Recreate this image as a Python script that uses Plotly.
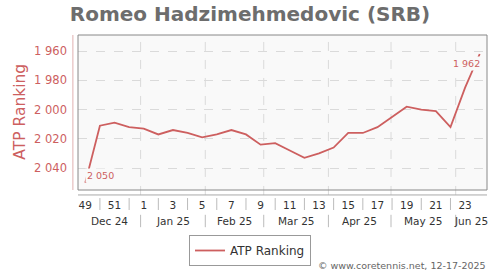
import plotly.graph_objects as go
from datetime import date

# ---- data ----
weeks = [49, 50, 51, 52, 1, 2, 3, 4, 5, 6, 7, 8, 9, 10, 11, 12, 13, 14,
         15, 16, 17, 18, 19, 20, 21, 22, 23, 24]
ranking = [2050, 2011, 2009, 2012, 2013, 2017, 2014, 2016, 2019, 2017,
           2014, 2017, 2024, 2023, 2028, 2033, 2030, 2026, 2016, 2016,
           2012, 2005, 1998, 2000, 2001, 2012, 1985, 1962]
month_labels = ["Dec 24", "Jan 25", "Feb 25", "Mar 25", "Apr 25", "May 25", "Jun 25"]
month_starts = [date(2024, 12, 1), date(2025, 1, 1), date(2025, 2, 1), date(2025, 3, 1),
                date(2025, 4, 1), date(2025, 5, 1), date(2025, 6, 1)]
first_week_start = date(2024, 12, 2)
y_ticks = [1960, 1980, 2000, 2020, 2040]

RED = "#cd5f5f"
PLOT_BG = "#f9f9f9"
GRID = "#dadada"

xs = list(range(len(weeks)))
xmin, xmax = -0.5, len(weeks) - 0.5

fig = go.Figure()
fig.add_trace(go.Scatter(x=xs, y=ranking, mode="lines", name="ATP Ranking",
                         line=dict(color=RED, width=1.8), hoverinfo="skip"))

shapes = []
annotations = []

# month boundaries
bounds = []
for m in month_starts:
    b = (m - first_week_start).days / 7.0 - 0.5
    bounds.append(max(b, xmin))
bounds.append(xmax)

for b in bounds[1:-1]:
    shapes.append(dict(type="line", xref="x", yref="paper", x0=b, x1=b, y0=-0.032, y1=1,
                       line=dict(color=GRID, width=1, dash="dash"), layer="below"))
    shapes.append(dict(type="line", xref="x", yref="paper", x0=b, x1=b, y0=-0.16, y1=-0.24,
                       line=dict(color="#bbbbbb", width=1)))

for i, lab in enumerate(month_labels):
    c = (bounds[i] + bounds[i + 1]) / 2.0
    annotations.append(dict(text=lab, x=c, y=-0.2, xref="x", yref="paper", showarrow=False,
                            xanchor="center", yanchor="middle",
                            font=dict(size=10.5, color="#333333")))

# week separators
for i in range(1, len(weeks) - 1, 2):
    shapes.append(dict(type="line", xref="x", yref="paper", x0=i, x1=i, y0=-0.052, y1=-0.129,
                       line=dict(color="#bbbbbb", width=1)))

# plot frame
shapes.append(dict(type="rect", xref="paper", yref="paper", x0=0, x1=1, y0=0, y1=1,
                   line=dict(color="#888888", width=1)))
# x axis line (offset)
shapes.append(dict(type="line", xref="paper", yref="paper", x0=0, x1=1, y0=-0.032, y1=-0.032,
                   line=dict(color="#aaaaaa", width=1)))
# y axis line (offset)
shapes.append(dict(type="line", xref="paper", yref="paper", x0=-0.0125, x1=-0.0125, y0=0, y1=1,
                   line=dict(color="#e0b0b0", width=1)))

# y title
annotations.append(dict(text="ATP Ranking", x=-0.142, y=0.505, xref="paper", yref="paper",
                        showarrow=False, textangle=-90, xanchor="center", yanchor="middle",
                        font=dict(size=15.5, color=RED)))

# data labels
def fmt(v):
    return f"{v:,}".replace(",", " ")

annotations.append(dict(text=fmt(ranking[0]), x=xs[0], y=ranking[0], xref="x", yref="y",
                        showarrow=False, xanchor="left", yanchor="bottom", yshift=0,
                        bgcolor=PLOT_BG, borderpad=1, font=dict(size=9.5, color=RED)))
annotations.append(dict(text=fmt(ranking[-1]), x=xs[-1], y=ranking[-1], xref="x", yref="y",
                        showarrow=False, xanchor="right", yanchor="top", yshift=-2, xshift=2,
                        bgcolor=PLOT_BG, borderpad=1, font=dict(size=9.5, color=RED)))

# credit
annotations.append(dict(text="© www.coretennis.net, 12-17-2025", x=1.003, y=-0.488,
                        xref="paper", yref="paper", showarrow=False, xanchor="right",
                        yanchor="middle", font=dict(size=9.5, color="#666666")))

fig.update_layout(
    width=500, height=270,
    margin=dict(l=78, r=13, t=35, b=80),
    paper_bgcolor="white", plot_bgcolor=PLOT_BG,
    font=dict(family="DejaVu Sans"),
    title=dict(text="<b>Romeo Hadzimehmedovic (SRB)</b>", x=0.5, xanchor="center",
               y=1 - 14 / 270, yanchor="middle",
               font=dict(size=20, color="#6d6d6d", family="DejaVu Sans")),
    xaxis=dict(range=[xmin, xmax], showgrid=False, zeroline=False, showline=False,
               tickvals=xs[0::2], ticktext=[str(w) for w in weeks[0::2]],
               ticks="", ticklabelstandoff=7,
               tickfont=dict(size=10.5, color="#333333")),
    yaxis=dict(range=[2055, 1949], tickvals=y_ticks, ticktext=[fmt(v) for v in y_ticks],
               showgrid=True, gridcolor=GRID, griddash="dash", zeroline=False,
               showline=False, ticks="", ticklabelstandoff=10,
               tickfont=dict(size=11.5, color=RED)),
    showlegend=True,
    legend=dict(orientation="h", x=0.5, xref="container", xanchor="center",
                y=1 - 235 / 270, yref="container", yanchor="top",
                bordercolor="#999999", borderwidth=1, bgcolor="white",
                font=dict(size=12, color="#333333"), itemwidth=30),
    shapes=shapes, annotations=annotations,
)

fig.write_html("out.html")
